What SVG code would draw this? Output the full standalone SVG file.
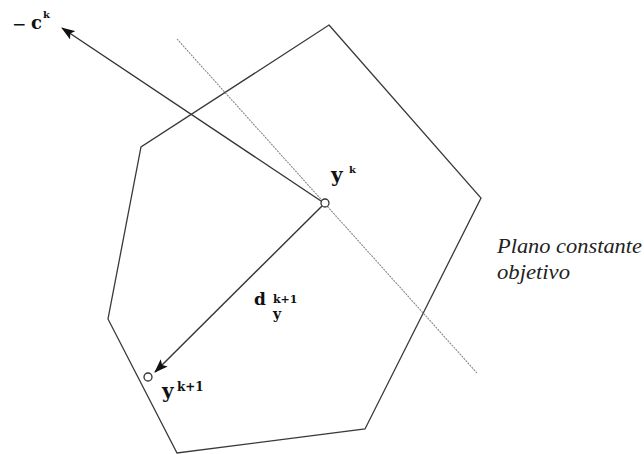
<svg xmlns="http://www.w3.org/2000/svg" width="644" height="454" viewBox="0 0 644 454">
<defs>
<style>
.edge{fill:none;stroke:#3a3a3a;stroke-width:1.3}
.conn{fill:none;stroke:#333;stroke-width:1.4}
.pt{fill:#fff;stroke:#333;stroke-width:1.3}
.m{font-family:"DejaVu Serif","Liberation Serif",serif;font-weight:bold;fill:#111}
.it{font-family:"Liberation Serif","DejaVu Serif",serif;font-style:italic;fill:#222;font-size:21px}
</style>
<marker id="ah" viewBox="0 0 14 10" refX="13" refY="5" markerWidth="14" markerHeight="10" markerUnits="userSpaceOnUse" orient="auto">
<path d="M0,0 L14,5 L0,10 L3,5 Z" fill="#111"/>
</marker>
</defs>
<rect width="644" height="454" fill="#fff"/>
<g id="polytope">
<polygon class="edge" points="329,25 481,198 365,429 177,453 108,319 141,147"/>
</g>
<g id="plane">
<line x1="177" y1="39" x2="477" y2="373" stroke="#888" stroke-width="1.1" stroke-dasharray="2 1"/>
</g>
<g id="connectors">
<line class="conn" x1="321" y1="201" x2="62" y2="28" marker-end="url(#ah)"/>
<line class="conn" x1="322" y1="206" x2="155" y2="372" marker-end="url(#ah)"/>
</g>
<g id="yk">
<circle class="pt" cx="325" cy="203" r="4"/>
<text class="m" x="331" y="182" font-size="20">y</text>
<text class="m" x="349" y="173" font-size="10">k</text>
</g>
<g id="yk1">
<circle class="pt" cx="148" cy="377" r="4"/>
<text class="m" x="162" y="398" font-size="20">y</text>
<text class="m" x="177" y="391" font-size="12">k+1</text>
</g>
<g id="neg-c">
<text x="12" y="30" font-family="DejaVu Sans, sans-serif" font-size="17" fill="#111">−</text>
<text class="m" x="31" y="29" font-size="18">c</text>
<text class="m" x="43" y="18" font-size="10">k</text>
</g>
<g id="dy">
<text class="m" x="254" y="305" font-size="17">d</text>
<text class="m" x="273" y="303" font-size="11">k+1</text>
<text class="m" x="273" y="319" font-size="14">y</text>
</g>
<g id="plane-label">
<text class="it" x="497" y="253" textLength="145" lengthAdjust="spacingAndGlyphs">Plano constante</text>
<text class="it" x="497" y="279" textLength="73" lengthAdjust="spacingAndGlyphs">objetivo</text>
</g>
</svg>
